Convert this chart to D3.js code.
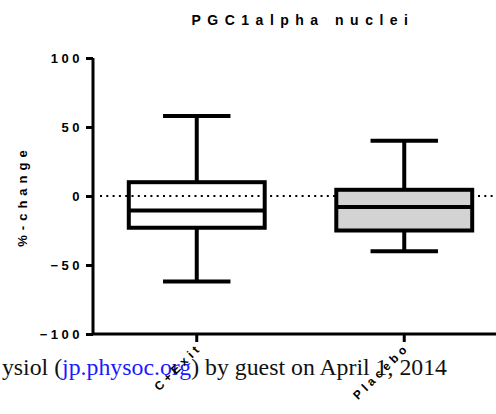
<!DOCTYPE html>
<html>
<head>
<meta charset="utf-8">
<script src="https://cdn.jsdelivr.net/npm/d3@7"></script>
<style>
  html, body { margin: 0; padding: 0; background: #fff; }
  svg { display: block; }
  text { font-family: Arial, "Liberation Sans", Helvetica, sans-serif; }
</style>
</head>
<body>
<svg id="chart" width="496" height="414"></svg>
<script>
// Box summaries for each group (% change)
const categories = ["C+Exit", "Placebo"];
const whiskerHigh = [58, 40];
const q3 = [10, 4.5];
const median = [-10.5, -8];
const q1 = [-23, -25];
const whiskerLow = [-62, -40];
const fills = ["#ffffff", "#d3d3d3"];
const yTicks = [-100, -50, 0, 50, 100];

const svg = d3.select("#chart");

const x = d3.scaleBand().domain(categories).range([93, 508]).padding(0);
const y = d3.scaleLinear().domain([-100, 100]).range([334, 58]);

const boxW = x.bandwidth() * 0.655;
const capW = x.bandwidth() * 0.325;
const cx = c => x(c) + x.bandwidth() / 2;

// Footer line of the source page
const foot = svg.append("text")
  .attr("x", 447).attr("y", 375)
  .attr("text-anchor", "end")
  .style("font-family", "'Liberation Serif', 'Times New Roman', serif")
  .style("font-size", "23.8px")
  .attr("fill", "#111");
foot.append("tspan").text("ysiol (");
foot.append("tspan").attr("fill", "#1a1aff").text("jp.physoc.org");
foot.append("tspan").text(") by guest on April 1, 2014");

// Title
svg.append("text")
  .attr("x", 303).attr("y", 25)
  .attr("text-anchor", "middle")
  .style("font-size", "14px").style("font-weight", "bold")
  .style("letter-spacing", "6.5px")
  .text("PGC1alpha nuclei");

// Y axis
const yAxis = svg.append("g")
  .attr("transform", "translate(93,0)")
  .call(d3.axisLeft(y).tickValues(yTicks).tickSize(7).tickPadding(3));
yAxis.select(".domain").attr("stroke", "#000").attr("stroke-width", 3)
  .attr("d", `M0,${y(100)}V${y(-100)}`);
yAxis.selectAll(".tick line").attr("stroke", "#000").attr("stroke-width", 3);
yAxis.selectAll(".tick text")
  .attr("fill", "#000")
  .style("font-size", "13px").style("font-weight", "bold")
  .style("letter-spacing", "3.5px")
  .attr("dy", "0.36em");

svg.append("text")
  .attr("transform", `translate(27,${y(0)}) rotate(-90)`)
  .attr("text-anchor", "middle")
  .style("font-size", "13px").style("font-weight", "bold")
  .style("letter-spacing", "5px")
  .text("%-change");

// X axis
const xAxis = svg.append("g")
  .attr("transform", `translate(0,${y(-100)})`)
  .call(d3.axisBottom(x).tickSize(8).tickFormat(""));
xAxis.select(".domain").attr("stroke", "#000").attr("stroke-width", 3)
  .attr("d", `M93,0H496`);
xAxis.selectAll(".tick line").attr("stroke", "#000").attr("stroke-width", 3);

xAxis.selectAll(".tick").append("text")
  .attr("transform", "translate(6,14) rotate(-45)")
  .attr("text-anchor", "end")
  .attr("fill", "#000")
  .style("font-size", "12px").style("font-weight", "bold")
  .style("letter-spacing", "4px")
  .text(d => d);

// Zero reference line
svg.append("line")
  .attr("x1", 100).attr("x2", 496)
  .attr("y1", y(0)).attr("y2", y(0))
  .attr("stroke", "#000").attr("stroke-width", 2)
  .attr("stroke-dasharray", "2,4.3");

// Boxes and whiskers
const g = svg.append("g").selectAll("g").data(categories).join("g");

g.append("line")
  .attr("x1", cx).attr("x2", cx)
  .attr("y1", (d, i) => y(whiskerHigh[i])).attr("y2", (d, i) => y(q3[i]))
  .attr("stroke", "#000").attr("stroke-width", 4);
g.append("line")
  .attr("x1", cx).attr("x2", cx)
  .attr("y1", (d, i) => y(q1[i])).attr("y2", (d, i) => y(whiskerLow[i]))
  .attr("stroke", "#000").attr("stroke-width", 4);
g.append("line")
  .attr("x1", d => cx(d) - capW / 2).attr("x2", d => cx(d) + capW / 2)
  .attr("y1", (d, i) => y(whiskerHigh[i])).attr("y2", (d, i) => y(whiskerHigh[i]))
  .attr("stroke", "#000").attr("stroke-width", 4);
g.append("line")
  .attr("x1", d => cx(d) - capW / 2).attr("x2", d => cx(d) + capW / 2)
  .attr("y1", (d, i) => y(whiskerLow[i])).attr("y2", (d, i) => y(whiskerLow[i]))
  .attr("stroke", "#000").attr("stroke-width", 4);
g.append("rect")
  .attr("x", d => cx(d) - boxW / 2).attr("width", boxW)
  .attr("y", (d, i) => y(q3[i])).attr("height", (d, i) => y(q1[i]) - y(q3[i]))
  .attr("fill", (d, i) => fills[i])
  .attr("fill-opacity", (d, i) => i === 0 ? 0 : 1)
  .attr("stroke", "#000").attr("stroke-width", 4);
g.append("line")
  .attr("x1", d => cx(d) - boxW / 2).attr("x2", d => cx(d) + boxW / 2)
  .attr("y1", (d, i) => y(median[i])).attr("y2", (d, i) => y(median[i]))
  .attr("stroke", "#000").attr("stroke-width", 4);
</script>
</body>
</html>
